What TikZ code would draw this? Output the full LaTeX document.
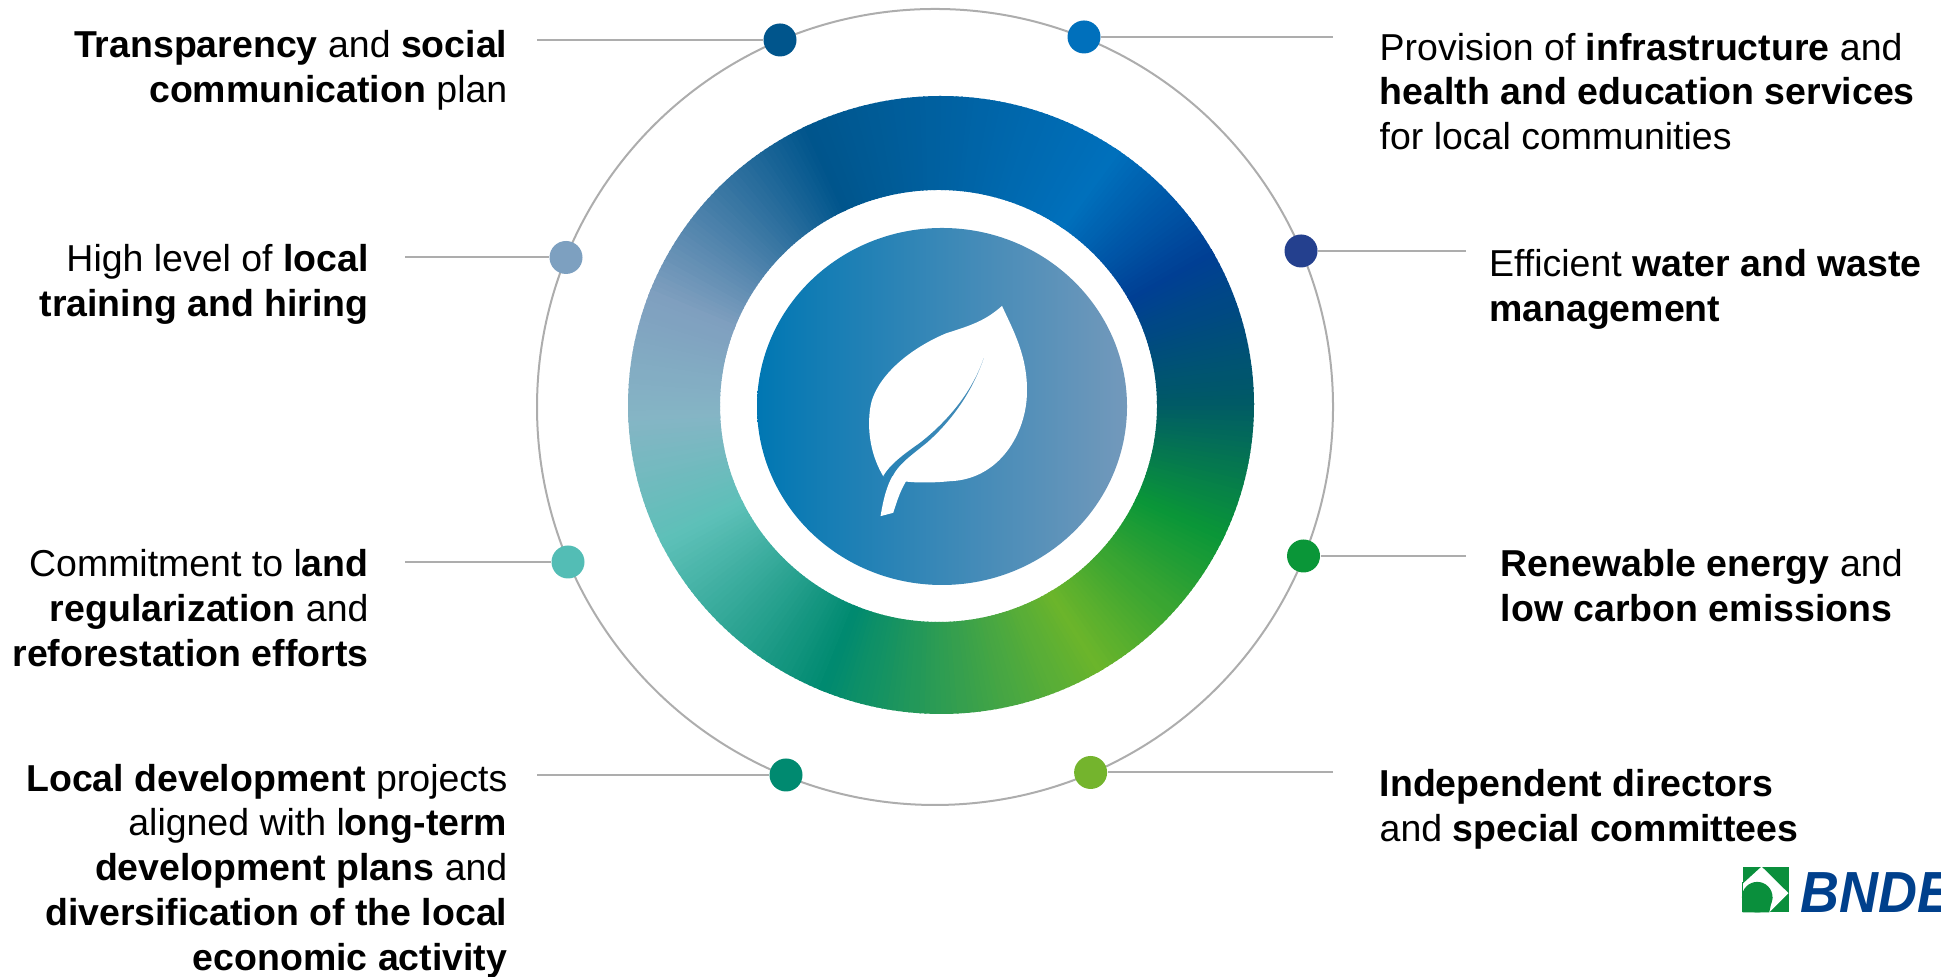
\documentclass[tikz,border=0pt]{standalone}
\usepackage{fontspec}
\setmainfont{Liberation Sans}
\definecolor{stopA}{HTML}{005A66}
\definecolor{stopB}{HTML}{003F94}
\definecolor{stopC}{HTML}{0070BC}
\definecolor{stopD}{HTML}{00558C}
\definecolor{stopE}{HTML}{7F9FBF}
\definecolor{stopEF}{HTML}{85B5C5}
\definecolor{stopF}{HTML}{5DC0B8}
\definecolor{stopG}{HTML}{008A70}
\definecolor{stopH}{HTML}{6BB52B}
\definecolor{stopI}{HTML}{0A9638}
\definecolor{dotRU}{HTML}{24408E}
\definecolor{dotLL}{HTML}{53BDB5}
\definecolor{dotLU}{HTML}{7DA0C0}
\definecolor{dotBR}{HTML}{74B42D}
\definecolor{ringgray}{HTML}{ADADAD}
\definecolor{discleft}{HTML}{0077B3}
\definecolor{discright}{HTML}{7399BB}
\definecolor{logogreen}{HTML}{0A8F3C}
\definecolor{logoblue}{HTML}{00408C}
\tikzset{
  leader/.style={draw=ringgray,line width=0.02cm},
  dotnode/.style={circle,minimum size=0.33cm,inner sep=0pt},
  lefttext/.style={anchor=north east,align=right,inner sep=0pt,font=\fontsize{10.66}{12.76}\selectfont},
  righttext/.style={anchor=north west,align=left,inner sep=0pt,font=\fontsize{10.66}{12.76}\selectfont},
  discfill/.style={left color=discleft,right color=discright}
}
\begin{document}
\begin{tikzpicture}
\useasboundingbox (0,0) rectangle (19.41,9.77);
\coordinate (ringC) at (9.41,5.72);
\coordinate (discC) at (9.42,5.705);

\foreach \a/\b/\ca/\cb in {0/29/stopA/stopB,29/55/stopB/stopC,55/115/stopC/stopD,115/158/stopD/stopE,158/182/stopE/stopEF,182/206/stopEF/stopF,206/247/stopF/stopG,247/300/stopG/stopH,300/334/stopH/stopI,334/360/stopI/stopA} {
    \foreach \t in {\a,...,\b} {
        \pgfmathtruncatemacro{\p}{100*(\t-\a)/(\b-\a)}
        \colorlet{wedgecol}{\cb!\p!\ca}
        \fill[wedgecol,shift={(ringC)}] (\t:3.13 and 3.09) -- (\t+1.3:3.13 and 3.09) -- ([shift={(-0.025,-0.01)}]\t+1.3:2.185 and 2.16) -- ([shift={(-0.025,-0.01)}]\t:2.185 and 2.16) -- cycle;
    }
}
\shade[discfill] (discC) ellipse [x radius=1.85,y radius=1.785];

\begin{scope}[shift={(8.40,6.97)},x=0.0033333cm,y=-0.0033333cm]
    \fill[white] (487,78) .. controls (520,150) and (565,230) .. (562,340) .. controls (560,460) and (480,600) .. (330,605) .. controls (280,610) and (230,610) .. (198,606) .. controls (178,640) and (170,670) .. (160,700) -- (122,710) .. controls (130,660) and (140,620) .. (160,585) -- (130,590) .. controls (100,540) and (80,470) .. (90,390) .. controls (100,300) and (200,210) .. (320,160) .. controls (400,135) and (440,120) .. (487,78) -- cycle;
    \clip (432,235) .. controls (400,330) and (330,420) .. (240,490) .. controls (190,525) and (150,555) .. (130,590) -- (158,590) .. controls (175,555) and (210,530) .. (260,490) .. controls (340,420) and (400,330) .. (432,235) -- cycle;
    \shade[discfill] (discC) ellipse [x radius=555,y radius=535];
\end{scope}

\draw[leader] (9.35,5.70) circle (3.98);

\node[dotnode] (dotTL) at (7.80,9.37) {};
\node[dotnode] (dotTR) at (10.84,9.40) {};
\node[dotnode] (dotLU) at (5.66,7.195) {};
\node[dotnode] (dotRU) at (13.01,7.26) {};
\node[dotnode] (dotLL) at (5.68,4.15) {};
\node[dotnode] (dotRL) at (13.035,4.21) {};
\node[dotnode] (dotBL) at (7.86,2.02) {};
\node[dotnode] (dotBR) at (10.906,2.045) {};

\coordinate (endTL) at (5.37,9.37);
\coordinate (endTR) at (13.33,9.40);
\coordinate (endLU) at (4.05,7.195);
\coordinate (endRU) at (14.66,7.26);
\coordinate (endLL) at (4.05,4.15);
\coordinate (endRL) at (14.66,4.21);
\coordinate (endBL) at (5.37,2.02);
\coordinate (endBR) at (13.33,2.045);

\foreach \n in {TL,TR,LU,RU,LL,RL,BL,BR} {
    \draw[leader] (end\n) -- (dot\n);
}

\fill[stopD] (dotTL) circle (0.165);
\fill[stopC] (dotTR) circle (0.165);
\fill[dotLU] (dotLU) circle (0.165);
\fill[dotRU] (dotRU) circle (0.165);
\fill[dotLL] (dotLL) circle (0.165);
\fill[stopI] (dotRL) circle (0.165);
\fill[stopG] (dotBL) circle (0.165);
\fill[dotBR] (dotBR) circle (0.165);

\node[lefttext] (txtTL) at (5.08,9.475) {\textbf{Transparency} and \textbf{social}\\\textbf{communication} plan};
\node[lefttext] (txtLU) at (3.692,7.333) {High level of \textbf{local}\\\textbf{training and hiring}};
\node[lefttext] (txtLL) at (3.692,4.283) {Commitment to l\textbf{and}\\\textbf{regularization} and\\\textbf{reforestation efforts}};
\node[lefttext] (txtBL) at (5.08,2.137) {\textbf{Local development} projects\\aligned with l\textbf{ong-term}\\\textbf{development plans} and\\\textbf{diversification of the local}\\\textbf{economic activity}};
\node[righttext] (txtTR) at (13.79,9.447) {Provision of \textbf{infrastructure} and\\\textbf{health and education services}\\for local communities};
\node[righttext] (txtRU) at (14.885,7.28) {Efficient \textbf{water and waste}\\\textbf{management}};
\node[righttext] (txtRL) at (15.00,4.283) {\textbf{Renewable energy} and\\\textbf{low carbon emissions}};
\node[righttext] (txtBR) at (13.79,2.085) {\textbf{Independent directors}\\and \textbf{special committees}};

\begin{scope}[shift={(17.00,1.37)},x=0.0033333cm,y=-0.0033333cm]
    \fill[logogreen] (128,80) rectangle (266,218);
    \fill[white] (128,132) -- (185,80) -- (266,160) -- (208,218) -- (128,218) -- cycle;
    \fill[logogreen] (172,172) circle (46);
    \fill[logogreen] (128,172) -- (218,172) -- (208,218) -- (128,218) -- cycle;
    \fill[logogreen] (126,126) rectangle (128,218);
\end{scope}
\node[anchor=base west,inner sep=0pt,xscale=0.93,text=logoblue,font=\fontsize{16.5}{16.5}\selectfont\bfseries\itshape] (logoname) at (18.00,0.643) {BNDES};
\end{tikzpicture}
\end{document}
